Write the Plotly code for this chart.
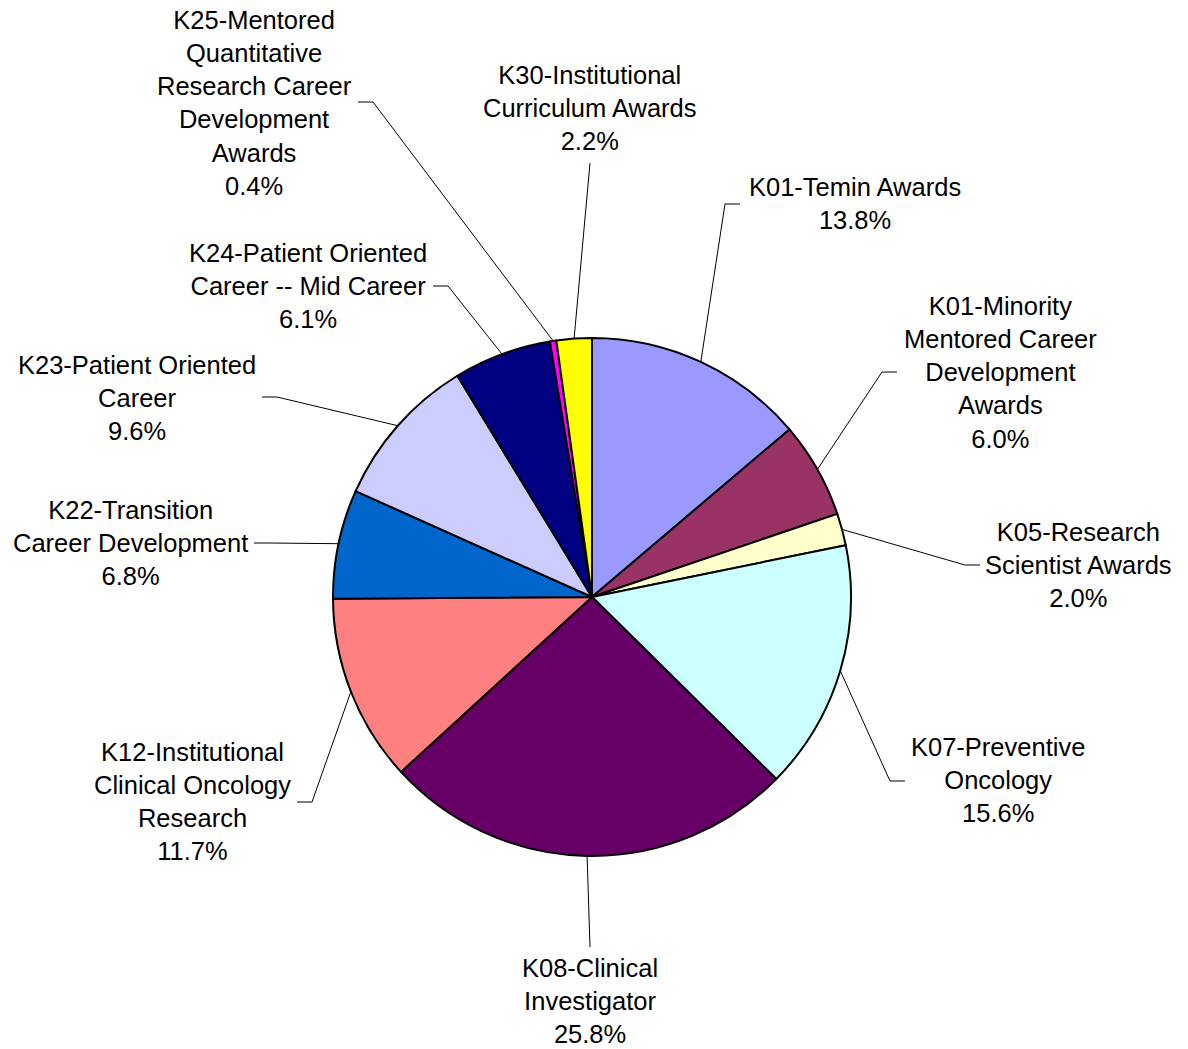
import math
import plotly.graph_objects as go

# ---- data ----
categories = [
    "K01-Temin Awards",
    "K01-Minority Mentored Career Development Awards",
    "K05-Research Scientist Awards",
    "K07-Preventive Oncology",
    "K08-Clinical Investigator",
    "K12-Institutional Clinical Oncology Research",
    "K22-Transition Career Development",
    "K23-Patient Oriented Career",
    "K24-Patient Oriented Career -- Mid Career",
    "K25-Mentored Quantitative Research Career Development Awards",
    "K30-Institutional Curriculum Awards",
]
label_lines = [
    ["K01-Temin Awards"],
    ["K01-Minority", "Mentored Career", "Development", "Awards"],
    ["K05-Research", "Scientist Awards"],
    ["K07-Preventive", "Oncology"],
    ["K08-Clinical", "Investigator"],
    ["K12-Institutional", "Clinical Oncology", "Research"],
    ["K22-Transition", "Career Development"],
    ["K23-Patient Oriented", "Career"],
    ["K24-Patient Oriented", "Career -- Mid Career"],
    ["K25-Mentored", "Quantitative", "Research Career", "Development", "Awards"],
    ["K30-Institutional", "Curriculum Awards"],
]
percent = [13.8, 6.0, 2.0, 15.6, 25.8, 11.7, 6.8, 9.6, 6.1, 0.4, 2.2]

# ---- styles / layout ----
colors = ["#9999FF", "#993366", "#FFFFCC", "#CCFFFF", "#660066", "#FF8080",
          "#0066CC", "#CCCCFF", "#000080", "#FF00FF", "#FFFF00"]

OFF = 8                      # page body margin
W, H = 1180, 1041            # figure size
CX, CY, R = 592, 597, 259    # pie centre / radius in page pixels

# label text-block centres (page pixels)
label_pos = [(855, 203.5), (1000, 372), (1078, 564.5), (998, 780), (590, 1001),
             (192, 801), (130, 543), (137, 398), (308, 286), (254, 102.5), (590, 108)]
# leader elbow points (page pixels) and direction of the short horizontal tail
elbow = [(725, 204), (882, 372), (965, 565), (890, 781), (590, 947),
         (312, 802), (269, 543), (277, 397), (448, 286), (373, 102), (590, 163)]
tail = [1, 1, 1, 1, 0, -1, -1, -1, -1, -1, 0]
TAIL_LEN = 15
FONT = dict(family="Liberation Sans, Arial, sans-serif", size=25.5, color="black")

fig = go.Figure()
fig.add_trace(go.Pie(
    labels=categories, values=percent, sort=False, direction="clockwise",
    rotation=0, textinfo="none", hoverinfo="label+percent",
    marker=dict(colors=colors, line=dict(color="black", width=2)),
    domain=dict(x=[(CX - OFF - R) / W, (CX - OFF + R) / W],
                y=[(H - (CY - OFF) - R) / H, (H - (CY - OFF) + R) / H]),
    showlegend=False,
))

# invisible axes in page-pixel coordinates for leader lines / labels
fig.add_trace(go.Scatter(x=[OFF, OFF + W], y=[OFF, OFF + H], mode="markers",
                         marker=dict(opacity=0), hoverinfo="skip", showlegend=False))

total = sum(percent)
cum = 0.0
for i, v in enumerate(percent):
    mid = (cum + v / 2) / total * 2 * math.pi
    cum += v
    sx = CX + R * math.sin(mid)
    sy = CY - R * math.cos(mid)
    ex, ey = elbow[i]
    xs = [sx, ex]
    ys = [sy, ey]
    if tail[i] != 0:
        xs.append(ex + tail[i] * TAIL_LEN)
        ys.append(ey)
    path = "M " + " L ".join(f"{x:.1f},{y:.1f}" for x, y in zip(xs, ys))
    fig.add_shape(type="path", path=path, xref="x", yref="y",
                  line=dict(color="black", width=1))
    lx, ly = label_pos[i]
    text = "<br>".join(label_lines[i] + [f"{v:.1f}%"])
    fig.add_annotation(x=lx, y=ly, xref="x", yref="y", text=text, showarrow=False,
                       xanchor="center", yanchor="middle", align="center", font=FONT)

fig.update_layout(
    width=W, height=H, margin=dict(l=0, r=0, t=0, b=0),
    paper_bgcolor="white", plot_bgcolor="rgba(0,0,0,0)",
    xaxis=dict(range=[OFF, OFF + W], visible=False, fixedrange=True),
    yaxis=dict(range=[OFF + H, OFF], visible=False, fixedrange=True),
)

fig.write_html("out.html")
